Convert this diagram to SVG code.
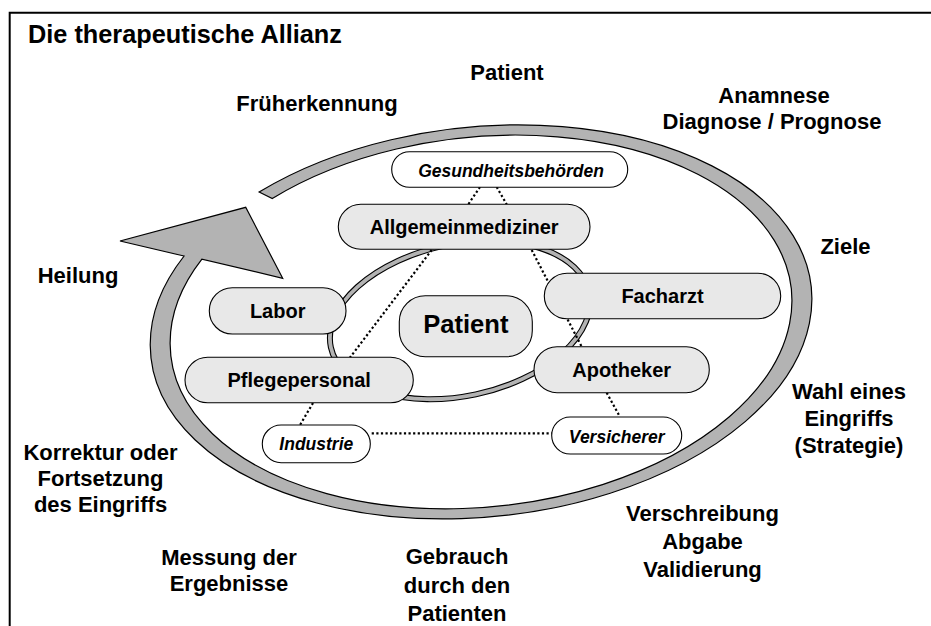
<svg xmlns="http://www.w3.org/2000/svg" width="931" height="626" viewBox="0 0 931 626">
<style>
.lbl{font-family:"Liberation Sans",Arial,sans-serif;font-weight:bold;font-size:22px;fill:#000;text-anchor:middle}
.ttl{font-family:"Liberation Sans",Arial,sans-serif;font-weight:bold;font-size:25.3px;fill:#000}
.pill{fill:#e8e8e8;stroke:#000;stroke-width:1.1}
.wpill{fill:#fff;stroke:#000;stroke-width:1.1}
.nt{font-family:"Liberation Sans",Arial,sans-serif;font-weight:bold;font-size:20px;fill:#000;text-anchor:middle}
.it{font-family:"Liberation Sans",Arial,sans-serif;font-weight:bold;font-style:italic;font-size:17.5px;fill:#000;text-anchor:middle}
.dot{stroke:#000;stroke-width:2.2;stroke-dasharray:2.2 2.4;fill:none}
</style>
<rect width="931" height="626" fill="#fff"/>
<path d="M931,12.7 H9.7 V626" fill="none" stroke="#000" stroke-width="2"/>
<text class="ttl" x="28" y="43">Die therapeutische Allianz</text>

<g id="cycle-arrow">
<path d="M259.1,192 A332,195 -6 1 1 184.1,256 L120,241 L245.7,207.3 L282.7,278.3 L201.9,259.1 A312,185 -6 1 0 272.3,198.5 Z" fill="#b3b3b3" stroke="#000" stroke-width="1.2" stroke-linejoin="miter"/>
</g>

<g id="inner-ring">
<ellipse cx="460" cy="320" rx="132" ry="76" transform="rotate(-12 460 320)" fill="none" stroke="#000" stroke-width="6"/>
<ellipse cx="460" cy="320" rx="132" ry="76" transform="rotate(-12 460 320)" fill="none" stroke="#b3b3b3" stroke-width="3.8"/>
</g>

<g id="connectors">
<line class="dot" x1="480" y1="187" x2="468.3" y2="204.3"/>
<line class="dot" x1="496.7" y1="187" x2="506.7" y2="204.3"/>
<line class="dot" x1="431.7" y1="250" x2="350" y2="357.5"/>
<line class="dot" x1="531.7" y1="250" x2="581.7" y2="346.7"/>
<line class="dot" x1="313" y1="403" x2="300" y2="425"/>
<line class="dot" x1="606.7" y1="392.7" x2="620" y2="417"/>
<line class="dot" x1="371.7" y1="433.3" x2="551.7" y2="433.3"/>
</g>

<g id="gesundheitsbehoerden">
<rect class="wpill" x="391.7" y="151.7" width="236" height="35.6" rx="17.8"/>
<text class="it" x="511" y="176.5">Gesundheitsbehörden</text>
</g>
<g id="allgemeinmediziner">
<rect class="pill" x="338.3" y="204.3" width="251.7" height="45" rx="22.5"/>
<text class="nt" x="464.2" y="234">Allgemeinmediziner</text>
</g>
<g id="labor">
<rect class="pill" x="209.3" y="287.7" width="136.7" height="46.3" rx="23"/>
<text class="nt" x="277.7" y="317.5">Labor</text>
</g>
<g id="patient">
<rect class="pill" x="399.3" y="295.7" width="133" height="61" rx="26"/>
<text class="nt" x="465.8" y="333" style="font-size:25.6px">Patient</text>
</g>
<g id="pflegepersonal">
<rect class="pill" x="185" y="357.3" width="228.3" height="45.4" rx="22.7"/>
<text class="nt" x="299.2" y="387.3">Pflegepersonal</text>
</g>
<g id="facharzt">
<rect class="pill" x="544.3" y="273.3" width="236.4" height="45.4" rx="22.7"/>
<text class="nt" x="662.5" y="302.7">Facharzt</text>
</g>
<g id="apotheker">
<rect class="pill" x="534" y="346.7" width="175.3" height="46" rx="23"/>
<text class="nt" x="621.7" y="376.7">Apotheker</text>
</g>
<g id="industrie">
<rect class="wpill" x="262.3" y="425" width="108" height="37.7" rx="18.8"/>
<text class="it" x="316.3" y="450">Industrie</text>
</g>
<g id="versicherer">
<rect class="wpill" x="551.7" y="417" width="130" height="37" rx="18.5"/>
<text class="it" x="616.7" y="442.5">Versicherer</text>
</g>

<g id="labels">
<text class="lbl" x="507" y="80">Patient</text>
<text class="lbl" x="317" y="111">Früherkennung</text>
<text class="lbl" x="774" y="102.5">Anamnese</text>
<text class="lbl" x="772" y="128.5">Diagnose / Prognose</text>
<text class="lbl" x="845.5" y="254">Ziele</text>
<text class="lbl" x="78" y="283">Heilung</text>
<text class="lbl" x="849" y="399"><tspan x="849">Wahl eines</tspan><tspan x="849" dy="27">Eingriffs</tspan><tspan x="849" dy="27">(Strategie)</tspan></text>
<text class="lbl" x="100.5" y="459.5"><tspan x="100.5">Korrektur oder</tspan><tspan x="100.5" dy="26">Fortsetzung</tspan><tspan x="100.5" dy="26">des Eingriffs</tspan></text>
<text class="lbl" x="229" y="565"><tspan x="229">Messung der</tspan><tspan x="229" dy="26">Ergebnisse</tspan></text>
<text class="lbl" x="457" y="564"><tspan x="457">Gebrauch</tspan><tspan x="457" dy="28.5">durch den</tspan><tspan x="457" dy="28.5">Patienten</tspan></text>
<text class="lbl" x="702.5" y="521"><tspan x="702.5">Verschreibung</tspan><tspan x="702.5" dy="28">Abgabe</tspan><tspan x="702.5" dy="28">Validierung</tspan></text>
</g>
</svg>
